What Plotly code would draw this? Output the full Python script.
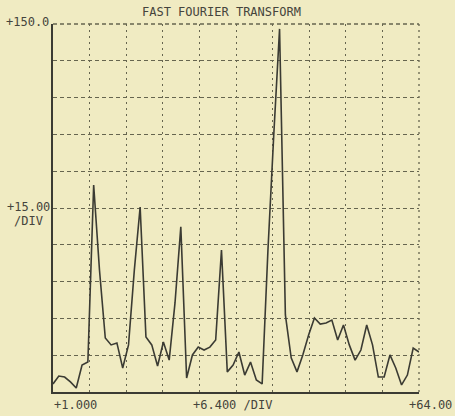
import plotly.graph_objects as go

# FFT magnitude per frequency bin
bins = list(range(1, 65))
magnitude = [
    3.3, 6.5, 6.1, 4.1, 1.6, 11.0, 12.2, 84.4, 49.7, 22.0,
    19.2, 20.0, 9.8, 19.2, 49.7, 75.4, 22.4, 19.2, 10.6, 20.4,
    13.0, 36.3, 67.3, 5.7, 15.1, 18.3, 17.1, 18.3, 21.2, 57.9,
    8.2, 11.0, 16.3, 6.9, 12.2, 4.9, 3.3, 57.9, 104.8, 148.0,
    31.4, 13.9, 8.2, 15.1, 23.2, 30.2, 27.7, 28.1, 29.3, 21.2,
    27.3, 19.2, 13.0, 17.1, 27.3, 19.2, 6.1, 6.1, 15.1, 9.8,
    2.9, 6.9, 17.9, 16.3,
]

x_min, x_max, x_div = 1, 64, 6.3
y_min, y_max, y_div = 0, 150, 15

title_text = "FAST FOURIER TRANSFORM"
x_labels = ["+1.000", "+6.400 /DIV", "+64.00"]
y_labels = ["+150.0", "+15.00", "/DIV"]

ink = "#3b3b33"
grid = "#66654f"
paper = "#f0ebc2"
font = dict(family="DejaVu Sans Mono", size=12, color="#45443c")

fig = go.Figure()
fig.add_trace(go.Scatter(
    x=bins, y=magnitude, mode="lines",
    line=dict(color=ink, width=1.6),
    hoverinfo="skip", showlegend=False,
))

fig.update_layout(
    width=455, height=416,
    margin=dict(l=53, r=36, t=24, b=24),
    paper_bgcolor=paper, plot_bgcolor=paper,
    font=font,
)
fig.update_xaxes(
    range=[x_min, x_max], tick0=x_min, dtick=x_div,
    showticklabels=False, ticks="",
    showgrid=True, gridcolor=grid, gridwidth=1.3, griddash="2px,4px",
    showline=True, linecolor=ink, linewidth=1.6,
    zeroline=False,
)
fig.update_yaxes(
    range=[y_min, y_max], tick0=y_min, dtick=y_div,
    showticklabels=False, ticks="",
    showgrid=True, gridcolor=grid, gridwidth=1.3, griddash="4px,3px",
    showline=True, linecolor=ink, linewidth=1.6,
    zeroline=False,
)

# dotted grid border on the top and right edges
fig.add_shape(type="line", xref="paper", yref="paper", x0=0, x1=1, y0=1, y1=1,
              line=dict(color=grid, width=1.3, dash="4px,3px"), layer="below")
fig.add_shape(type="line", xref="paper", yref="paper", x0=1, x1=1, y0=0, y1=1,
              line=dict(color=grid, width=1.3, dash="2px,4px"), layer="below")

common = dict(xref="paper", yref="paper", showarrow=False)
annotations = [
    dict(text=title_text, x=0.5, y=1, yanchor="bottom", xanchor="center",
         xshift=-15, yshift=3, **common),
    dict(text=y_labels[0], x=0, y=1, xanchor="right", yanchor="middle",
         xshift=-2, yshift=2, **common),
    dict(text=y_labels[1], x=0, y=0.5, xanchor="right", yanchor="middle",
         xshift=-1, yshift=1, **common),
    dict(text=y_labels[2], x=0, y=0.5, xanchor="right", yanchor="middle",
         xshift=-8, yshift=-13, **common),
    dict(text=x_labels[0], x=0, y=0, xanchor="left", yanchor="top",
         xshift=-1, yshift=-4, **common),
    dict(text=x_labels[1], x=0.5, y=0, xanchor="center", yanchor="top",
         xshift=-4, yshift=-4, **common),
    dict(text=x_labels[2], x=1, y=0, xanchor="center", yanchor="top",
         xshift=11, yshift=-4, **common),
]
fig.update_layout(annotations=annotations)

fig.write_html("out.html")
